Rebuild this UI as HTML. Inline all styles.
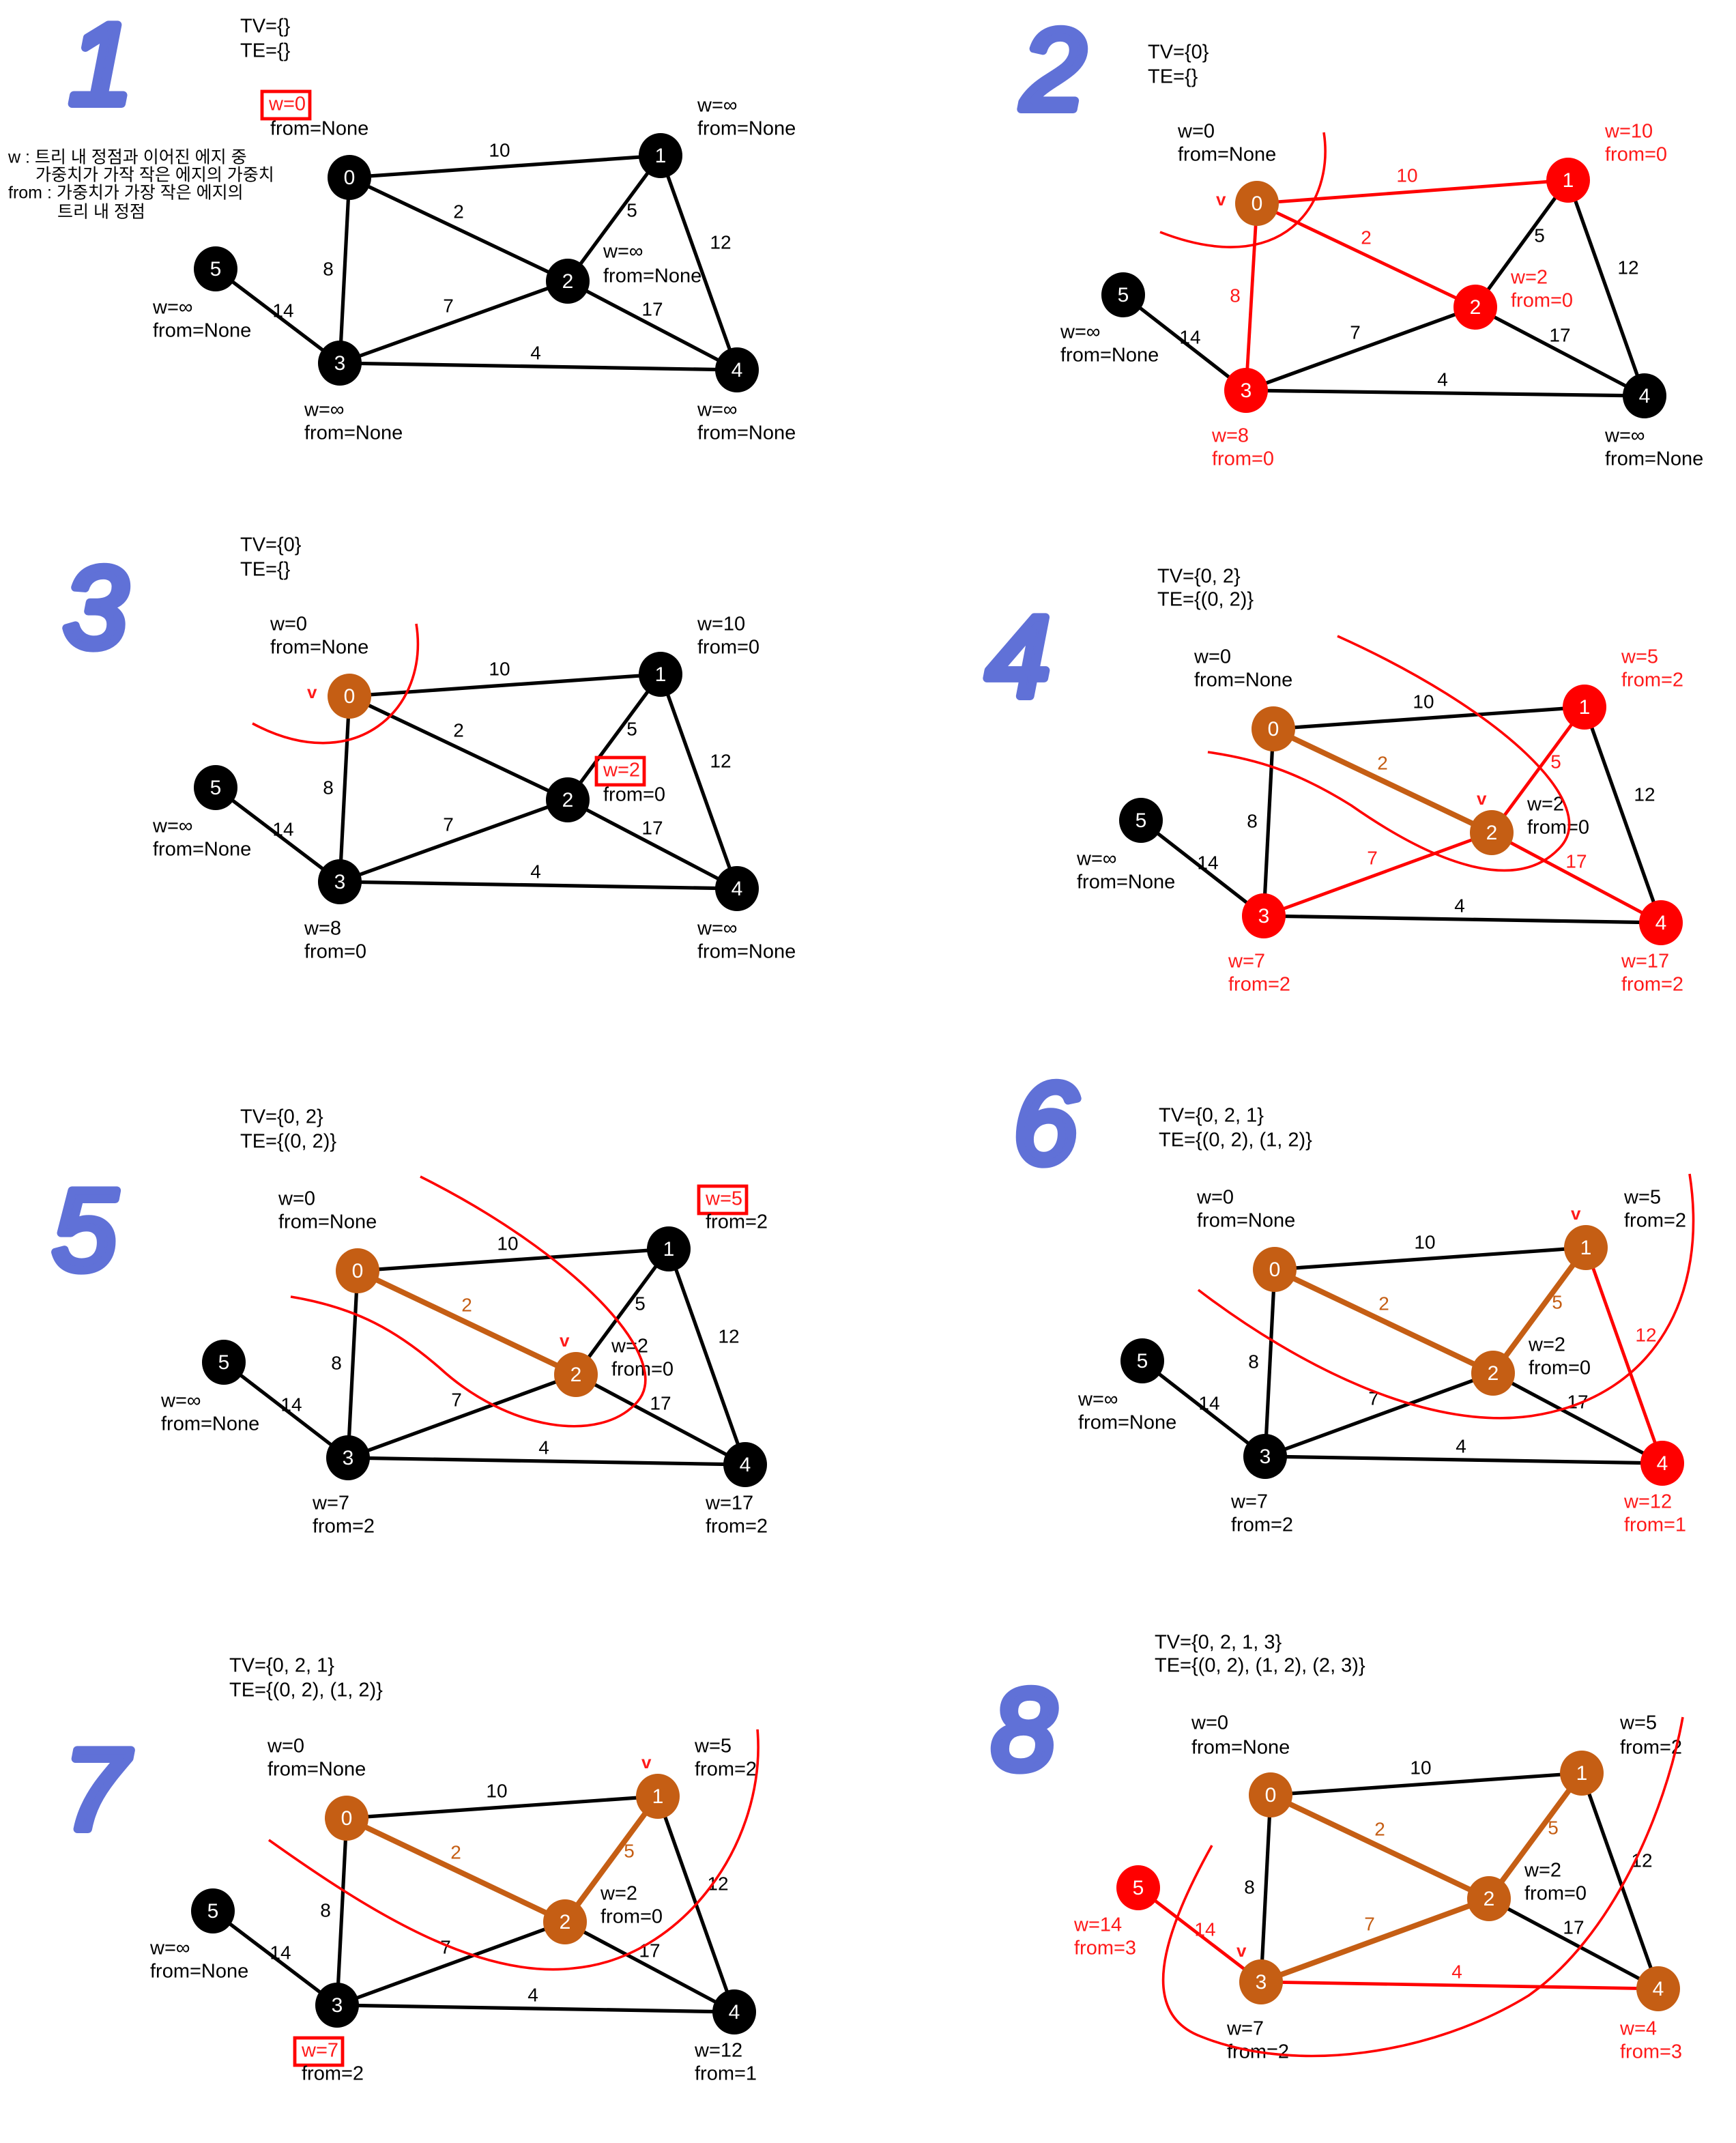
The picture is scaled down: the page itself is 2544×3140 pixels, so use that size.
<!DOCTYPE html>
<html><head><meta charset="utf-8"><style>
html,body{margin:0;padding:0;background:#fff;}
svg{display:block;}
text{font-family:"Liberation Sans","Noto Sans CJK KR",sans-serif;}
</style></head><body>
<svg id="s" width="2544" height="3140" viewBox="0 0 1272 1570" xmlns="http://www.w3.org/2000/svg"></svg>
<script>
const NS='http://www.w3.org/2000/svg';
const svg=document.getElementById('s');
const COL={k:'#000',o:'#c55e14',r:'#ff0000'};
const TXT={k:'#000',r:'#ff1a1a'};
// graph data
const edgeList=[[0,1],[0,2],[0,3],[1,2],[1,4],[2,3],[2,4],[3,4],[5,3]];
const edgeWeights=[10,2,8,5,12,7,17,4,14];
const labelOff=[[-4,-11],[0,-12],[-12,0],[13,-5],[16,-14],[-4,-11],[0,-11],[-2,-9],[4,-3]];
// per-panel layout & state
const panelNodes=[
 [[256,130],[484,114],[416,206],[249,266],[540,271],[158,197]],
 [[921,149],[1149,132],[1081,225],[913,286],[1205,290],[823,216]],
 [[256,510],[484,494],[416,586],[249,646],[540,651],[158,577]],
 [[933,534],[1161,518],[1093,610],[926,671],[1217,676],[836,601]],
 [[262,931],[490,915],[422,1007],[255,1068],[546,1073],[164,998]],
 [[934,930],[1162,914],[1094,1006],[927,1067],[1218,1072],[837,997]],
 [[254,1332],[482,1316],[414,1408],[247,1469],[538,1474],[156,1400]],
 [[931,1315],[1159,1299],[1091,1391],[924,1452],[1215,1457],[834,1383]]
];
const panelNodeColors=['kkkkkk','orrrkk','okkkkk','ororrk','okokkk','oookrk','oookkk','ooooor'];
const panelEdgeColors=['kkkkkkkkk','rrrkkkkkk','kkkkkkkkk','kokrkrrkk','kokkkkkkk','kokorkkkk','kokokkkkk','kokokokrr'];
const panelTexts=[
 [[176,20,'TV={}','k'],[176,38,'TE={}','k'],[197,77,'w=0','r',1],[198,95,'from=None','k'],[511,78,'w=∞','k'],[511,95,'from=None','k'],[442,185,'w=∞','k'],[442,203,'from=None','k'],[112,226,'w=∞','k'],[112,243,'from=None','k'],[223,301,'w=∞','k'],[223,318,'from=None','k'],[511,301,'w=∞','k'],[511,318,'from=None','k']],
 [[841,39,'TV={0}','k'],[841,57,'TE={}','k'],[863,97,'w=0','k'],[863,114,'from=None','k'],[1176,97,'w=10','r'],[1176,114,'from=0','r'],[1107,204,'w=2','r'],[1107,221,'from=0','r'],[777,244,'w=∞','k'],[777,261,'from=None','k'],[888,320,'w=8','r'],[888,337,'from=0','r'],[1176,320,'w=∞','k'],[1176,337,'from=None','k'],[891,147,'v','r']],
 [[176,400,'TV={0}','k'],[176,418,'TE={}','k'],[198,458,'w=0','k'],[198,475,'from=None','k'],[511,458,'w=10','k'],[511,475,'from=0','k'],[442,565,'w=2','r',1],[442,583,'from=0','k'],[112,606,'w=∞','k'],[112,623,'from=None','k'],[223,681,'w=8','k'],[223,698,'from=0','k'],[511,681,'w=∞','k'],[511,698,'from=None','k'],[225,508,'v','r']],
 [[848,423,'TV={0, 2}','k'],[848,440,'TE={(0, 2)}','k'],[875,482,'w=0','k'],[875,499,'from=None','k'],[1188,482,'w=5','r'],[1188,499,'from=2','r'],[1119,590,'w=2','k'],[1119,607,'from=0','k'],[789,630,'w=∞','k'],[789,647,'from=None','k'],[900,705,'w=7','r'],[900,722,'from=2','r'],[1188,705,'w=17','r'],[1188,722,'from=2','r'],[1082,586,'v','r']],
 [[176,819,'TV={0, 2}','k'],[176,837,'TE={(0, 2)}','k'],[204,879,'w=0','k'],[204,896,'from=None','k'],[517,879,'w=5','r',1],[517,896,'from=2','k'],[448,987,'w=2','k'],[448,1004,'from=0','k'],[118,1027,'w=∞','k'],[118,1044,'from=None','k'],[229,1102,'w=7','k'],[229,1119,'from=2','k'],[517,1102,'w=17','k'],[517,1119,'from=2','k'],[410,983,'v','r']],
 [[849,818,'TV={0, 2, 1}','k'],[849,836,'TE={(0, 2), (1, 2)}','k'],[877,878,'w=0','k'],[877,895,'from=None','k'],[1190,878,'w=5','k'],[1190,895,'from=2','k'],[1120,986,'w=2','k'],[1120,1003,'from=0','k'],[790,1026,'w=∞','k'],[790,1043,'from=None','k'],[902,1101,'w=7','k'],[902,1118,'from=2','k'],[1190,1101,'w=12','r'],[1190,1118,'from=1','r'],[1151,890,'v','r']],
 [[168,1221,'TV={0, 2, 1}','k'],[168,1239,'TE={(0, 2), (1, 2)}','k'],[196,1280,'w=0','k'],[196,1297,'from=None','k'],[509,1280,'w=5','k'],[509,1297,'from=2','k'],[440,1388,'w=2','k'],[440,1405,'from=0','k'],[110,1428,'w=∞','k'],[110,1445,'from=None','k'],[221,1503,'w=7','r',1],[221,1520,'from=2','k'],[509,1503,'w=12','k'],[509,1520,'from=1','k'],[470,1292,'v','r']],
 [[846,1204,'TV={0, 2, 1, 3}','k'],[846,1221,'TE={(0, 2), (1, 2), (2, 3)}','k'],[873,1263,'w=0','k'],[873,1281,'from=None','k'],[1187,1263,'w=5','k'],[1187,1281,'from=2','k'],[1117,1371,'w=2','k'],[1117,1388,'from=0','k'],[787,1411,'w=14','r'],[787,1428,'from=3','r'],[899,1487,'w=7','k'],[899,1504,'from=2','k'],[1187,1487,'w=4','r'],[1187,1504,'from=3','r'],[906,1430,'v','r']]
];
const panelCurves=[null,
 'M970,97 C978,150 940,205 850,170',
 'M305,457 C315,520 260,570 185,530',
 'M980,466 C1100,520 1175,590 1142,622 C1110,655 1050,632 990,590 C950,565 920,556 885,551',
 'M308,862 C420,918 495,995 467,1027 C440,1058 372,1048 322,1002 C292,976 262,958 213,950',
 'M878,945 C950,1000 1050,1052 1130,1036 C1212,1020 1252,950 1238,860',
 'M197,1348 C270,1400 350,1450 420,1442 C500,1435 562,1350 555,1267',
 'M888,1352 C850,1420 835,1475 880,1492 C950,1520 1050,1505 1120,1462 C1180,1420 1220,1330 1233,1258'
];
const stepDigits=[['1',74,76],['2',772,80],['3',70,474],['4',746,510],['5',62,930],['6',766,852],['7',70,1340],['8',750,1296]];

function el(tag,attrs,parent){const e=document.createElementNS(NS,tag);for(const k in attrs)e.setAttribute(k,attrs[k]);(parent||svg).appendChild(e);return e;}

stepDigits.forEach((d,i)=>{
 const t=el('text',{x:d[1],y:d[2],'text-anchor':'middle','font-size':84,'font-style':'italic',fill:'#4b5ed2',stroke:'#4b5ed2','stroke-width':6,'stroke-linejoin':'round',opacity:0.88});
 
 
 t.textContent=d[0];
});

// legend note
const notes=[[6,116,'w :  트리 내 정점과 이어진 에지 중'],[26,129,'가중치가 가작 작은 에지의 가중치'],[6,142,'from : 가중치가 가장 작은 에지의'],[42,156,'트리 내 정점']];
notes.forEach(n=>{const t=el('text',{x:n[0],y:n[1],'font-size':12.5,fill:'#000','dominant-baseline':'middle'});
 
 
 t.textContent=n[2];});

panelNodes.forEach((nodes,p)=>{
 const g=el('g',{});
 
 
 const ec=panelEdgeColors[p], nc=panelNodeColors[p];
 edgeList.forEach((e,i)=>{
  const a=nodes[e[0]],b=nodes[e[1]],c=ec[i];
  const l=el('line',{x1:a[0],y1:a[1],x2:b[0],y2:b[1],stroke:COL[c],'stroke-width':c==='o'?4:(c==='r'?2.4:2.6)},g);
  
  
  const mx=(a[0]+b[0])/2+labelOff[i][0], my=(a[1]+b[1])/2+labelOff[i][1];
  const t=el('text',{x:mx,y:my,'text-anchor':'middle','dominant-baseline':'middle','font-size':14,fill:c==='k'?'#000':(c==='o'?'#c55e14':'#ff1a1a')},g);
  
  
  t.textContent=edgeWeights[i];
 });
 nodes.forEach((n,i)=>{
  const c=el('ellipse',{cx:n[0],cy:n[1],rx:16,ry:16.5,fill:COL[nc[i]]},g);
  
  
  const t=el('text',{x:n[0],y:n[1]+1,'text-anchor':'middle','dominant-baseline':'middle','font-size':15,fill:'#fff'},g);
  
  
  t.textContent=i;
 });
 panelTexts[p].forEach(tx=>{
  const isV=tx[2]==='v';
  const t=el('text',{x:tx[0],y:tx[1],'dominant-baseline':'middle','font-size':isV?13:14.5,'font-weight':isV?'bold':'normal',fill:TXT[tx[3]]},g);
  
  
  t.textContent=tx[2];
  if(tx[4]){
   const w=tx[2].length*9+8;
   const r=el('rect',{x:tx[0]-5,y:tx[1]-10,width:w,height:20,fill:'none',stroke:'#ff0000','stroke-width':2.4},g);
   
   
  }
 });
 if(panelCurves[p]){
  const pa=el('path',{d:panelCurves[p],fill:'none',stroke:'#ff0000','stroke-width':1.8},g);
  
  
 }
});
</script>
</body></html>
